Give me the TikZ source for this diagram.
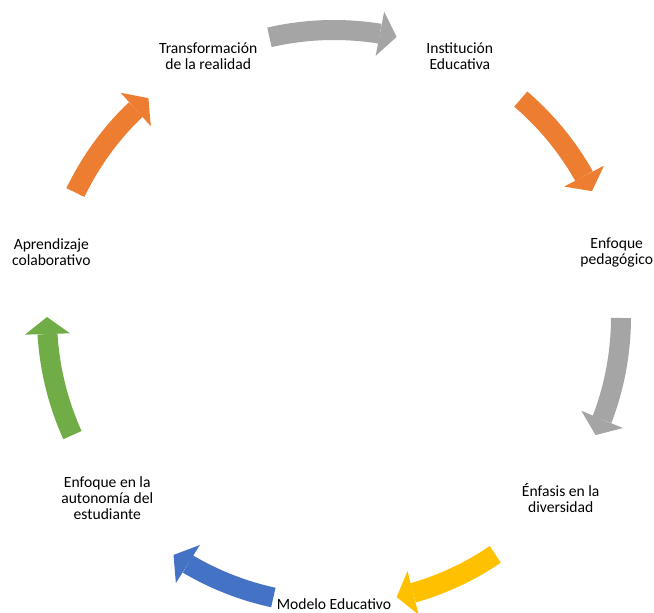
\documentclass[tikz,border=0pt]{standalone}
\usepackage{fontspec}
\setmainfont{Carlito}
\usetikzlibrary{arrows.meta, bending}

\definecolor{cycgrey}{HTML}{A5A5A5}
\definecolor{cycorange}{HTML}{ED7D31}
\definecolor{cycyellow}{HTML}{FFC000}
\definecolor{cycblue}{HTML}{4472C4}
\definecolor{cycgreen}{HTML}{70AD47}

\begin{document}
\begin{tikzpicture}[
        x=0.75pt, y=0.75pt, shift={(334,296)},
        every node/.style={align=center, font=\fontsize{11.7pt}{12pt}\selectfont},
        cyc/.style={draw=#1, line width=15pt,
            -{Triangle[width=33.75pt, length=12.75pt, line width=0pt]}}
        ]
        \useasboundingbox (-334,-296) rectangle (320,317);
        % Nodes
        \node (transf) at (115.71:290) {Transformación\\de la realidad};
        \node (inst) at (64.29:290) {Institución\\Educativa};
        \node (enfoque) at (12.86:290) {Enfoque\\pedagógico};
        \node (enfasis) at (-38.57:290) {Énfasis en la\\diversidad};
        \node (modelo) at (-90:287.5) {Modelo Educativo};
        \node (autonomia) at (-141.43:290) {Enfoque en la\\autonomía del\\estudiante};
        \node (aprend) at (167.14:290) {Aprendizaje\\colaborativo};

        % Arrow tails
        \coordinate (transf-inst) at (103:287);
        \coordinate (inst-enfoque) at (49.4:287);
        \coordinate (enfoque-enfasis) at (-0.2:287);
        \coordinate (enfasis-modelo) at (-55.8:287);
        \coordinate (modelo-autonomia) at (-102.2:287);
        \coordinate (autonomia-aprend) at (-155.7:287);
        \coordinate (aprend-transf) at (154.3:287);

        % Arrows
        \draw[cyc=cycgrey] (transf-inst) arc[start angle=103, end angle=77.4, radius=287];
        \draw[cyc=cycorange] (inst-enfoque) arc[start angle=49.4, end angle=26, radius=287];
        \draw[cyc=cycgrey] (enfoque-enfasis) arc[start angle=-0.2, end angle=-24.3, radius=287];
        \draw[cyc=cycyellow] (enfasis-modelo) arc[start angle=-55.8, end angle=-77.4, radius=287];
        \draw[cyc=cycblue] (modelo-autonomia) arc[start angle=-102.2, end angle=-124, radius=287];
        \draw[cyc=cycgreen] (autonomia-aprend) arc[start angle=-155.7, end angle=-180, radius=287];
        \draw[cyc=cycorange] (aprend-transf) arc[start angle=154.3, end angle=130.3, radius=287];
    \end{tikzpicture}
\end{document}
